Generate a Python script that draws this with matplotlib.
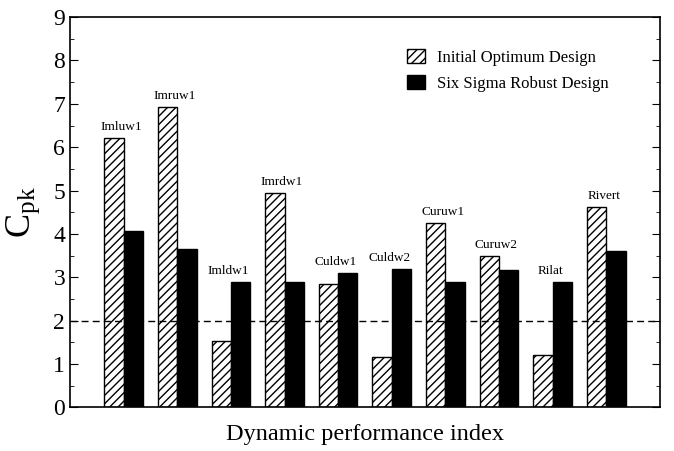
import numpy as np
import matplotlib.pyplot as plt
from matplotlib.ticker import MultipleLocator

plt.rcParams['font.family'] = 'Liberation Serif'
plt.rcParams['mathtext.fontset'] = 'custom'
plt.rcParams['mathtext.rm'] = 'Liberation Serif'
plt.rcParams['hatch.linewidth'] = 1.0

indices = ["Imluw1", "Imruw1", "Imldw1", "Imrdw1", "Culdw1",
           "Culdw2", "Curuw1", "Curuw2", "Rilat", "Rivert"]
initial = [6.21, 6.93, 1.52, 4.94, 2.84, 1.15, 4.25, 3.49, 1.20, 4.62]
robust = [4.06, 3.65, 2.89, 2.89, 3.09, 3.19, 2.89, 3.16, 2.89, 3.60]
threshold = 2.0

fig, ax = plt.subplots(figsize=(6.74, 4.51), dpi=100)
fig.subplots_adjust(left=0.104, right=0.979, top=0.962, bottom=0.097)

x = np.arange(1, len(indices) + 1)
w = 0.36
ax.bar(x - w/2, initial, w, color='white', edgecolor='black', hatch='////',
       linewidth=1.0, label='Initial Optimum Design')
ax.bar(x + w/2, robust, w, color='black', edgecolor='black', linewidth=1.0,
       label='Six Sigma Robust Design')

for xi, name, a, b in zip(x, indices, initial, robust):
    ax.text(xi - 0.05, max(a, b) + 0.12, name, ha='center', va='bottom', fontsize=9.5)

ax.axhline(threshold, color='black', linestyle=(0, (5, 3)), linewidth=1.0)

ax.set_xlim(0, 11)
ax.set_ylim(0, 9)
ax.set_xticks([])
ax.yaxis.set_major_locator(MultipleLocator(1))
ax.yaxis.set_minor_locator(MultipleLocator(0.5))
ax.tick_params(axis='y', which='both', direction='in', right=True, labelsize=17)
ax.tick_params(axis='y', which='major', length=6)
ax.tick_params(axis='y', which='minor', length=3)
for s in ax.spines.values():
    s.set_linewidth(1.2)

ax.set_ylabel(r'$\mathregular{C_{pk}}$', fontsize=26, labelpad=8)
ax.set_xlabel('Dynamic performance index', fontsize=17.5, labelpad=12)

ax.legend(loc='upper left', bbox_to_anchor=(0.56, 0.935), frameon=False,
          fontsize=12, handlelength=1.1, handleheight=0.9, handletextpad=0.7,
          labelspacing=0.55, borderaxespad=0)

plt.savefig('out.png', dpi=100)
